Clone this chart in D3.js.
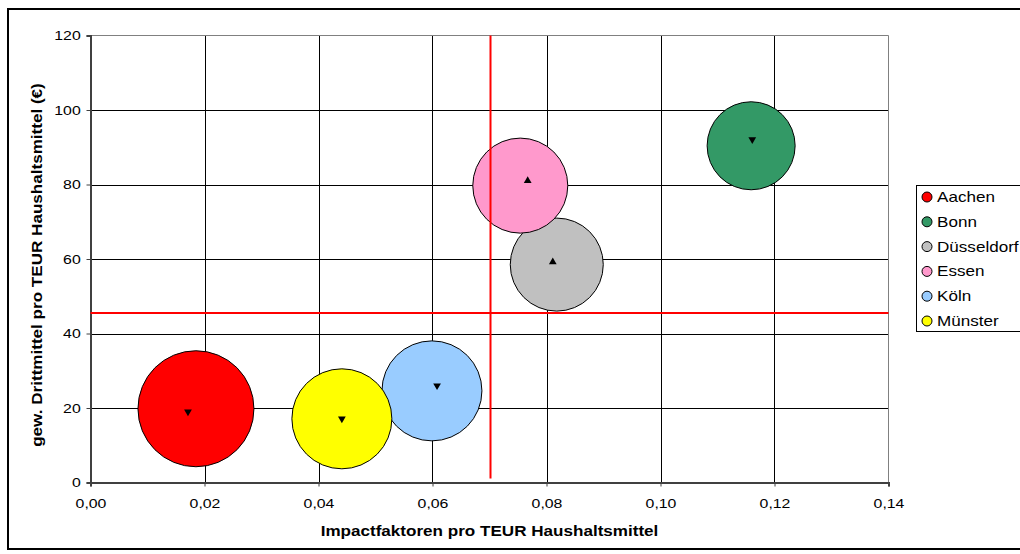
<!DOCTYPE html>
<html>
<head>
<meta charset="utf-8">
<script src="https://cdn.jsdelivr.net/npm/d3@7"></script>
<style>
  body { margin: 0; background: #fff; }
  svg { display: block; font-family: "Liberation Sans", Arial, sans-serif; }
</style>
</head>
<body>
<svg id="chart" width="1020" height="554"></svg>
<script>
// Data
var cities = ["Aachen", "Bonn", "Düsseldorf", "Essen", "Köln", "Münster"];
var cityColors = ["#ff0000", "#339966", "#c0c0c0", "#ff99cc", "#99ccff", "#ffff00"];
// bubble centres
var impact = [0.0185, 0.1159, 0.0818, 0.0754, 0.0599, 0.0441];
var drittmittel = [19.8, 90.4, 58.5, 79.7, 24.6, 17.1];
// bubble size (relative)
var bubbleSize = [100, 57.6, 64.3, 67.1, 74.3, 74.3];
// small triangle markers
var markX = [0.0171, 0.1161, 0.0811, 0.0767, 0.0608, 0.0441];
var markY = [19.0, 92.1, 59.2, 81.0, 26.0, 17.1];
var markUp = [false, false, true, true, false, false];
// red reference lines
var refX = 0.07;
var refY = 45.5;
var xTicks = [0, 0.02, 0.04, 0.06, 0.08, 0.10, 0.12, 0.14];
var yTicks = [0, 20, 40, 60, 80, 100, 120];

// text in the original is drawn wider along its baseline
var stretch = 1.22;

function drawChart() {
  var svg = d3.select("#chart");

  // outer frame
  svg.append("rect").attr("x", 8).attr("y", 9).attr("width", 1030).attr("height", 540)
    .attr("fill", "#fff").attr("stroke", "#000").attr("stroke-width", 2);

  // plot area edges
  var pL = 90.5, pR = 888.5, pT = 35.5, pB = 482.5;
  var x = d3.scaleLinear().domain([0, 0.14]).range([pL, pR]);
  var y = d3.scaleLinear().domain([0, 120]).range([pB, pT]);
  var r = d3.scaleSqrt().domain([0, 100]).range([0, 58]);

  var fmtX = function(d) { return d3.format(".2f")(d).replace(".", ","); };

  // grid
  var grid = svg.append("g");
  grid.selectAll(".gy").data(yTicks.filter(function(d) { return d > 0 && d < 120; })).enter()
    .append("line").attr("x1", pL).attr("x2", pR)
    .attr("y1", function(d) { return Math.round(y(d)) + 0.5; })
    .attr("y2", function(d) { return Math.round(y(d)) + 0.5; })
    .attr("stroke", "#000").attr("stroke-width", 1);
  grid.selectAll(".gx").data(xTicks.filter(function(d) { return d > 0 && d < 0.14; })).enter()
    .append("line").attr("y1", pT).attr("y2", pB)
    .attr("x1", function(d) { return Math.round(x(d)) + 0.5; })
    .attr("x2", function(d) { return Math.round(x(d)) + 0.5; })
    .attr("stroke", "#000").attr("stroke-width", 1);

  // plot border (top / right)
  svg.append("path").attr("d", "M" + pL + "," + pT + "H" + pR + "V" + pB)
    .attr("fill", "none").attr("stroke", "#808080").attr("stroke-width", 1);

  // axes
  var xAxis = svg.append("g").attr("transform", "translate(0," + pB + ")")
    .call(d3.axisBottom(x).tickValues(xTicks).tickFormat(fmtX).tickSize(4).tickPadding(12));
  var yAxis = svg.append("g").attr("transform", "translate(" + pL + ",0)")
    .call(d3.axisLeft(y).tickValues(yTicks).tickSize(4).tickPadding(4));
  [xAxis, yAxis].forEach(function(a) {
    a.select(".domain").attr("stroke", "#404040").attr("stroke-width", 2);
    a.selectAll(".tick line").attr("stroke", "#404040");
    a.selectAll("text").attr("font-size", 13).attr("fill", "#000")
      .attr("font-family", "Liberation Sans, Arial, sans-serif")
      .attr("transform", "scale(" + stretch + ",1)");
  });

  // bubbles
  var idx = d3.range(cities.length);
  svg.append("g").selectAll("circle").data(idx).enter().append("circle")
    .attr("cx", function(i) { return x(impact[i]); })
    .attr("cy", function(i) { return y(drittmittel[i]); })
    .attr("r", function(i) { return r(bubbleSize[i]); })
    .attr("fill", function(i) { return cityColors[i]; })
    .attr("stroke", "#000").attr("stroke-width", 1);

  // red reference lines
  svg.append("line").attr("x1", Math.round(x(refX)) + 0.5).attr("x2", Math.round(x(refX)) + 0.5)
    .attr("y1", pT).attr("y2", pB - 4)
    .attr("stroke", "#ff0000").attr("stroke-width", 2);
  svg.append("line").attr("x1", pL).attr("x2", pR)
    .attr("y1", Math.round(y(refY))).attr("y2", Math.round(y(refY)))
    .attr("stroke", "#ff0000").attr("stroke-width", 2);

  // triangle markers
  var tri = d3.symbol().type(d3.symbolTriangle).size(26);
  svg.append("g").selectAll("path").data(idx).enter().append("path")
    .attr("d", tri)
    .attr("transform", function(i) {
      return "translate(" + x(markX[i]) + "," + y(markY[i]) + ")" + (markUp[i] ? "" : " rotate(180)");
    })
    .attr("fill", "#000");

  // axis titles
  svg.append("text")
    .attr("transform", "translate(" + ((pL + pR) / 2) + ",536) scale(" + stretch + ",1)")
    .attr("text-anchor", "middle").attr("font-size", 14).attr("font-weight", "bold")
    .text("Impactfaktoren pro TEUR Haushaltsmittel");
  svg.append("text")
    .attr("transform", "translate(42,265) rotate(-90) scale(" + stretch + ",1)")
    .attr("text-anchor", "middle").attr("font-size", 14).attr("font-weight", "bold")
    .text("gew. Drittmittel pro TEUR Haushaltsmittel (€)");

  // legend
  var legend = svg.append("g");
  legend.append("rect").attr("x", 916.5).attr("y", 185.5).attr("width", 120).attr("height", 146)
    .attr("fill", "#fff").attr("stroke", "#000").attr("stroke-width", 1);
  var items = legend.selectAll(".item").data(idx).enter().append("g")
    .attr("transform", function(i) { return "translate(0," + (197 + i * 24.8) + ")"; });
  items.append("circle").attr("cx", 927).attr("cy", 0).attr("r", 5)
    .attr("fill", function(i) { return cityColors[i]; }).attr("stroke", "#000");
  items.append("text")
    .attr("transform", "translate(937,0) scale(" + stretch + ",1)")
    .attr("dy", "0.36em")
    .attr("font-size", 14).text(function(i) { return cities[i]; });
}

drawChart();
</script>
</body>
</html>
